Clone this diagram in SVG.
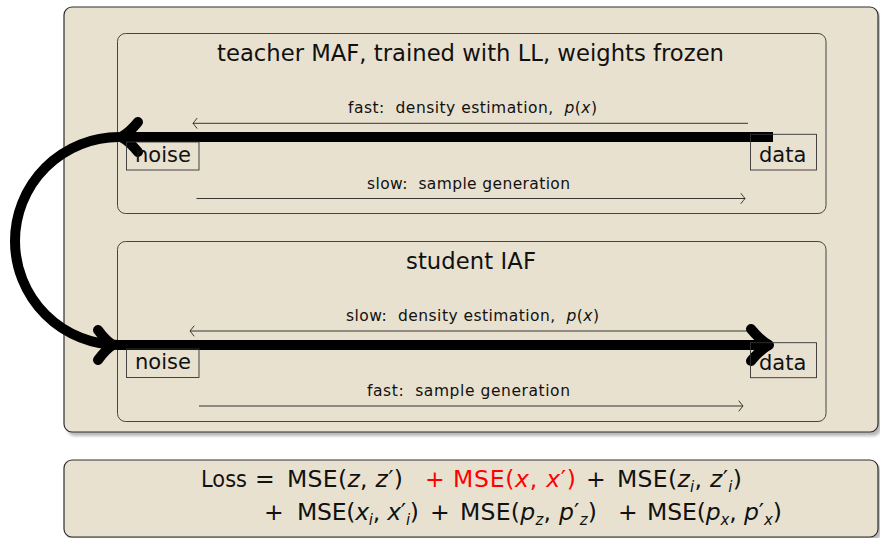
<svg xmlns="http://www.w3.org/2000/svg" width="880" height="538" viewBox="0 0 880 538">
  <defs>
    <style>
      .panel { fill: #e9e1cf; stroke: #2e2e2e; stroke-width: 1.2; }
      .flow { fill: none; stroke: #444; stroke-width: 1; }
      .shadow { fill: #9a9a9a; opacity: 0.7; }
      .tag { fill: none; stroke: #333; stroke-width: 0.9; }
      .thin { fill: none; stroke: #222; stroke-width: 0.9; }
      .thick { fill: none; stroke: #000; stroke-width: 10; }
      .head { fill: none; stroke: #000; stroke-width: 10; stroke-linecap: round; stroke-linejoin: round; }
      text { font-family: "DejaVu Sans", "Liberation Sans", sans-serif; fill: #111; }
      .title { font-size: 22.7px; }
      .label { font-size: 15.5px; }
      .tagtext { font-size: 21px; }
      .eq { font-size: 23.5px; }
      .it { font-style: italic; }
      .sub { font-style: italic; font-size: 15px; }
      .red { fill: #ff0000; }
    </style>
    <filter id="soft" x="-5%" y="-5%" width="110%" height="110%">
      <feGaussianBlur stdDeviation="1.5"/>
    </filter>
    <!-- open, slightly curved arrow tip for the thin direction lines -->
    <marker id="tip" viewBox="-6 -6 8 12" markerWidth="8" markerHeight="12" refX="0" refY="0" orient="auto" markerUnits="userSpaceOnUse">
      <path d="M-4,-5 Q-1,-1.2 0,0 Q-1,1.2 -4,5" fill="none" stroke="#222" stroke-width="0.9" stroke-linecap="round"/>
    </marker>
  </defs>

  <!-- outer frame -->
  <g id="frame">
    <rect class="shadow" x="67" y="11" width="814" height="425" rx="8" filter="url(#soft)"/>
    <rect class="panel" x="64" y="7" width="814" height="425" rx="8"/>
  </g>

  <!-- teacher flow -->
  <g id="teacher">
    <rect class="flow" x="117.5" y="33.5" width="708.5" height="180" rx="8"/>
    <text class="title" x="470.5" y="61" text-anchor="middle" textLength="507" lengthAdjust="spacing">teacher MAF, trained with LL, weights frozen</text>
    <text class="label" x="348" y="112.7" textLength="249" lengthAdjust="spacing" xml:space="preserve">fast:  density estimation,  <tspan class="it">p</tspan>(<tspan class="it">x</tspan>)</text>
    <text class="label" x="367" y="189" textLength="203" lengthAdjust="spacing" xml:space="preserve">slow:  sample generation</text>
  </g>

  <!-- student flow -->
  <g id="student">
    <rect class="flow" x="117.5" y="241.5" width="708.5" height="180" rx="8"/>
    <text class="title" x="471" y="269" text-anchor="middle" textLength="130" lengthAdjust="spacing">student IAF</text>
    <text class="label" x="346" y="320.5" textLength="253" lengthAdjust="spacing" xml:space="preserve">slow:  density estimation,  <tspan class="it">p</tspan>(<tspan class="it">x</tspan>)</text>
    <text class="label" x="367" y="396" textLength="203" lengthAdjust="spacing" xml:space="preserve">fast:  sample generation</text>
  </g>

  <!-- connectors -->
  <g id="connectors">
    <!-- thin direction lines -->
    <line class="thin" x1="748" y1="123.3" x2="193" y2="123.3" marker-end="url(#tip)"/>
    <line class="thin" x1="196.5" y1="198.5" x2="745" y2="198.5" marker-end="url(#tip)"/>
    <line class="thin" x1="753" y1="331" x2="190" y2="331" marker-end="url(#tip)"/>
    <line class="thin" x1="199" y1="406" x2="743" y2="406" marker-end="url(#tip)"/>

    <!-- teacher: data to noise -->
    <line class="thick" x1="773" y1="137" x2="122" y2="137"/>
    <path class="head" d="M138,122 Q129,133 121,137 Q129,141 138,152"/>

    <!-- teacher noise carried over to student noise -->
    <path class="thick" d="M119,137 A104,104 0 0 0 119,345"/>
    <path class="head" d="M98,330 Q106,341 113,345 Q106,349 98,360"/>

    <!-- student: noise to data -->
    <line class="thick" x1="117" y1="345" x2="766" y2="345"/>
    <path class="head" d="M751,329 Q761,341 769,345 Q761,349 751,361"/>
  </g>

  <!-- endpoint tags -->
  <g id="teacher-noise">
    <rect class="tag" x="126.5" y="142" width="72.5" height="28"/>
    <text class="tagtext" x="135" y="162">noise</text>
  </g>
  <g id="teacher-data">
    <rect class="tag" x="750.5" y="134.3" width="66" height="35.7"/>
    <text class="tagtext" x="759" y="161.7">data</text>
  </g>
  <g id="student-noise">
    <rect class="tag" x="126.5" y="349" width="72.5" height="28.5"/>
    <text class="tagtext" x="135" y="369.3">noise</text>
  </g>
  <g id="student-data">
    <rect class="tag" x="750.5" y="342.7" width="66" height="35"/>
    <text class="tagtext" x="759" y="370">data</text>
  </g>

  <!-- loss formula -->
  <g id="loss">
    <rect class="shadow" x="67" y="464" width="814" height="77" rx="8" filter="url(#soft)"/>
    <rect class="panel" x="64" y="460" width="814" height="77" rx="8"/>
    <g class="eq">
      <text x="201" y="487" textLength="46" lengthAdjust="spacingAndGlyphs">Loss</text>
      <text x="255" y="487">=</text>
      <text x="287" y="487" textLength="116" lengthAdjust="spacing">MSE(<tspan class="it">z</tspan>, <tspan class="it">z</tspan>′)</text>
      <text class="red" x="425" y="487">+</text>
      <text class="red" x="453" y="487" textLength="123" lengthAdjust="spacing">MSE(<tspan class="it">x</tspan>, <tspan class="it">x</tspan>′)</text>
      <text x="586" y="487">+</text>
      <text x="617" y="487" textLength="125" lengthAdjust="spacing">MSE(<tspan class="it">z</tspan><tspan class="sub" dy="5">i</tspan><tspan dy="-5">, </tspan><tspan class="it">z</tspan>′<tspan class="sub" dy="5">i</tspan><tspan dy="-5">)</tspan></text>

      <text x="264" y="520">+</text>
      <text x="297" y="520" textLength="122" lengthAdjust="spacing">MSE(<tspan class="it">x</tspan><tspan class="sub" dy="5">i</tspan><tspan dy="-5">, </tspan><tspan class="it">x</tspan>′<tspan class="sub" dy="5">i</tspan><tspan dy="-5">)</tspan></text>
      <text x="430" y="520">+</text>
      <text x="460" y="520" textLength="137" lengthAdjust="spacing">MSE(<tspan class="it">p</tspan><tspan class="sub" dy="5">z</tspan><tspan dy="-5">, </tspan><tspan class="it">p</tspan>′<tspan class="sub" dy="5">z</tspan><tspan dy="-5">)</tspan></text>
      <text x="618" y="520">+</text>
      <text x="647" y="520" textLength="135" lengthAdjust="spacing">MSE(<tspan class="it">p</tspan><tspan class="sub" dy="5">x</tspan><tspan dy="-5">, </tspan><tspan class="it">p</tspan>′<tspan class="sub" dy="5">x</tspan><tspan dy="-5">)</tspan></text>
    </g>
  </g>
</svg>
